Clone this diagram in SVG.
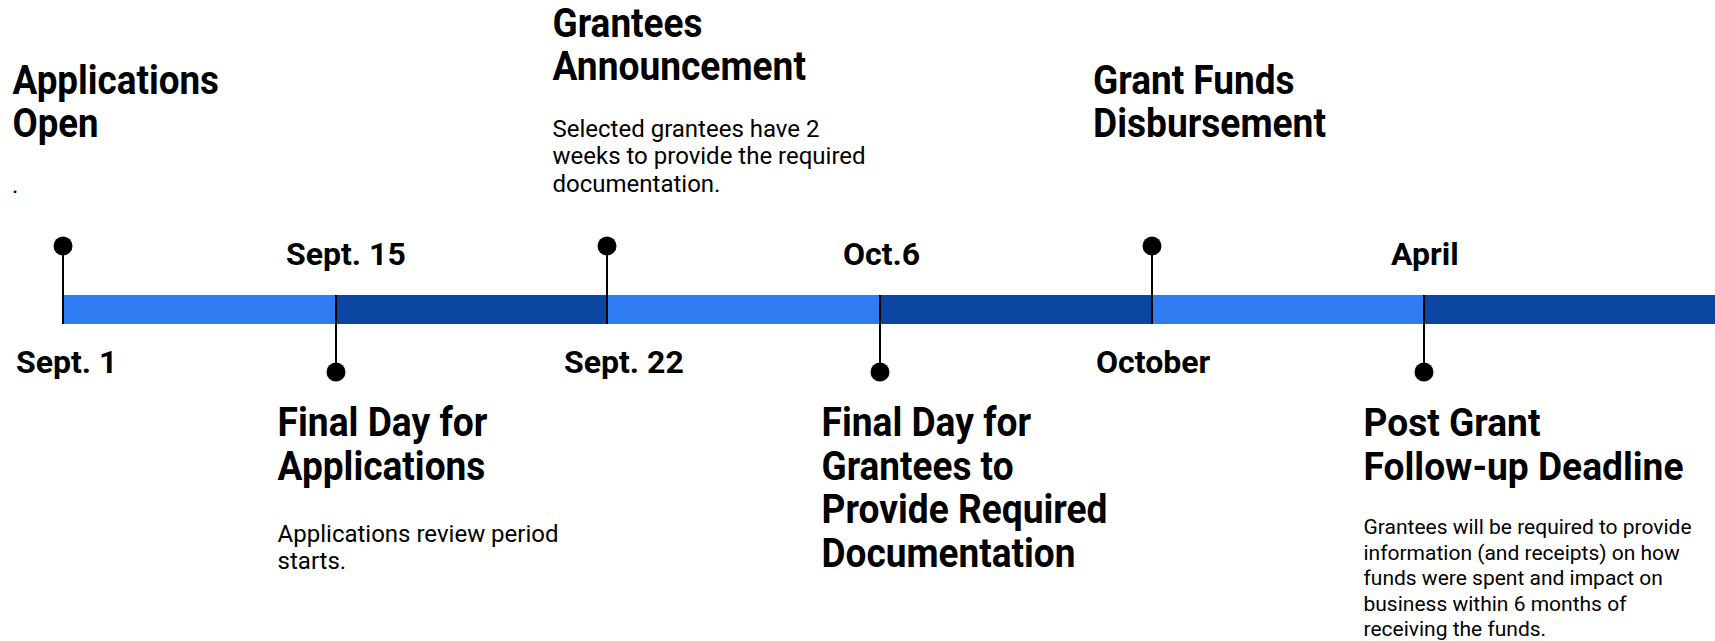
<svg xmlns="http://www.w3.org/2000/svg" width="1715" height="641" viewBox="0 0 1715 641">
  <style>
    text { font-family: Roboto, "Liberation Sans", sans-serif; fill: #000; }
    .title { font-size: 40px; font-weight: 700; }
    .title2 { font-size: 38px; font-weight: 700; }
    .date { font-size: 32px; font-weight: 700; }
    .desc { font-size: 24px; font-weight: 400; }
    .desc2 { font-size: 21px; font-weight: 400; }
    .light { fill: #2F7BF1; }
    .dark { fill: #0B46A0; }
    .stem { stroke: #000; stroke-width: 2; fill: none; }
    .dot { fill: #000; }
  </style>
  <rect width="1715" height="641" fill="#fff"/>

  <g id="timeline-bar">
    <rect class="light" x="63" y="295" width="273" height="29"/>
    <rect class="dark" x="336" y="295" width="271" height="29"/>
    <rect class="light" x="607" y="295" width="273" height="29"/>
    <rect class="dark" x="880" y="295" width="272" height="29"/>
    <rect class="light" x="1152" y="295" width="272" height="29"/>
    <rect class="dark" x="1424" y="295" width="291" height="29"/>
  </g>

  <g id="connectors">
    <line class="stem" x1="63" y1="246" x2="63" y2="324"/>
    <line class="stem" x1="336" y1="295" x2="336" y2="372"/>
    <line class="stem" x1="607" y1="246" x2="607" y2="324"/>
    <line class="stem" x1="880" y1="295" x2="880" y2="372"/>
    <line class="stem" x1="1152" y1="246" x2="1152" y2="324"/>
    <line class="stem" x1="1424" y1="295" x2="1424" y2="372"/>
  </g>

  <g id="applications-open">
    <circle class="dot" cx="63" cy="246" r="9.5"/>
    <text class="date" x="16" y="373">Sept. 1</text>
    <text class="title" x="12.5" y="94" textLength="206.5" lengthAdjust="spacingAndGlyphs">Applications</text>
    <text class="title" x="12.5" y="137" textLength="86" lengthAdjust="spacingAndGlyphs">Open</text>
    <text class="desc" x="12" y="193">.</text>
  </g>

  <g id="final-day-applications">
    <circle class="dot" cx="336" cy="372" r="9.5"/>
    <text class="date" x="286" y="265">Sept. 15</text>
    <text class="title" x="277.6" y="436" textLength="209.7" lengthAdjust="spacingAndGlyphs">Final Day for</text>
    <text class="title" x="277.6" y="480" textLength="207.8" lengthAdjust="spacingAndGlyphs">Applications</text>
    <text class="desc" x="277.6" y="541.5">Applications review period</text>
    <text class="desc" x="277.6" y="568.5">starts.</text>
  </g>

  <g id="grantees-announcement">
    <circle class="dot" cx="607" cy="246" r="9.5"/>
    <text class="date" x="564" y="373">Sept. 22</text>
    <text class="title" x="552.5" y="37" textLength="150" lengthAdjust="spacingAndGlyphs">Grantees</text>
    <text class="title" x="552.5" y="80" textLength="253.5" lengthAdjust="spacingAndGlyphs">Announcement</text>
    <text class="desc" x="552.5" y="137">Selected grantees have 2</text>
    <text class="desc" x="552.5" y="164.3">weeks to provide the required</text>
    <text class="desc" x="552.5" y="191.6">documentation.</text>
  </g>

  <g id="final-day-documentation">
    <circle class="dot" cx="880" cy="372" r="9.5"/>
    <text class="date" x="843" y="265">Oct.6</text>
    <text class="title" x="821.5" y="436" textLength="209.5" lengthAdjust="spacingAndGlyphs">Final Day for</text>
    <text class="title" x="821.5" y="479.5" textLength="192" lengthAdjust="spacingAndGlyphs">Grantees to</text>
    <text class="title" x="821.5" y="523" textLength="286" lengthAdjust="spacingAndGlyphs">Provide Required</text>
    <text class="title" x="821.5" y="566.5" textLength="254" lengthAdjust="spacingAndGlyphs">Documentation</text>
  </g>

  <g id="grant-funds-disbursement">
    <circle class="dot" cx="1152" cy="246" r="9.5"/>
    <text class="date" x="1096" y="373">October</text>
    <text class="title" x="1093" y="94" textLength="201.5" lengthAdjust="spacingAndGlyphs">Grant Funds</text>
    <text class="title" x="1093" y="137" textLength="233" lengthAdjust="spacingAndGlyphs">Disbursement</text>
  </g>

  <g id="post-grant-follow-up">
    <circle class="dot" cx="1424" cy="372" r="9.5"/>
    <text class="date" x="1391" y="265">April</text>
    <text class="title2" x="1363.5" y="436" textLength="177" lengthAdjust="spacingAndGlyphs">Post Grant</text>
    <text class="title2" x="1363.5" y="480" textLength="320" lengthAdjust="spacingAndGlyphs">Follow-up Deadline</text>
    <text class="desc2" x="1363.5" y="534">Grantees will be required to provide</text>
    <text class="desc2" x="1363.5" y="559.5">information (and receipts) on how</text>
    <text class="desc2" x="1363.5" y="585">funds were spent and impact on</text>
    <text class="desc2" x="1363.5" y="610.5">business within 6 months of</text>
    <text class="desc2" x="1363.5" y="636">receiving the funds.</text>
  </g>
</svg>
